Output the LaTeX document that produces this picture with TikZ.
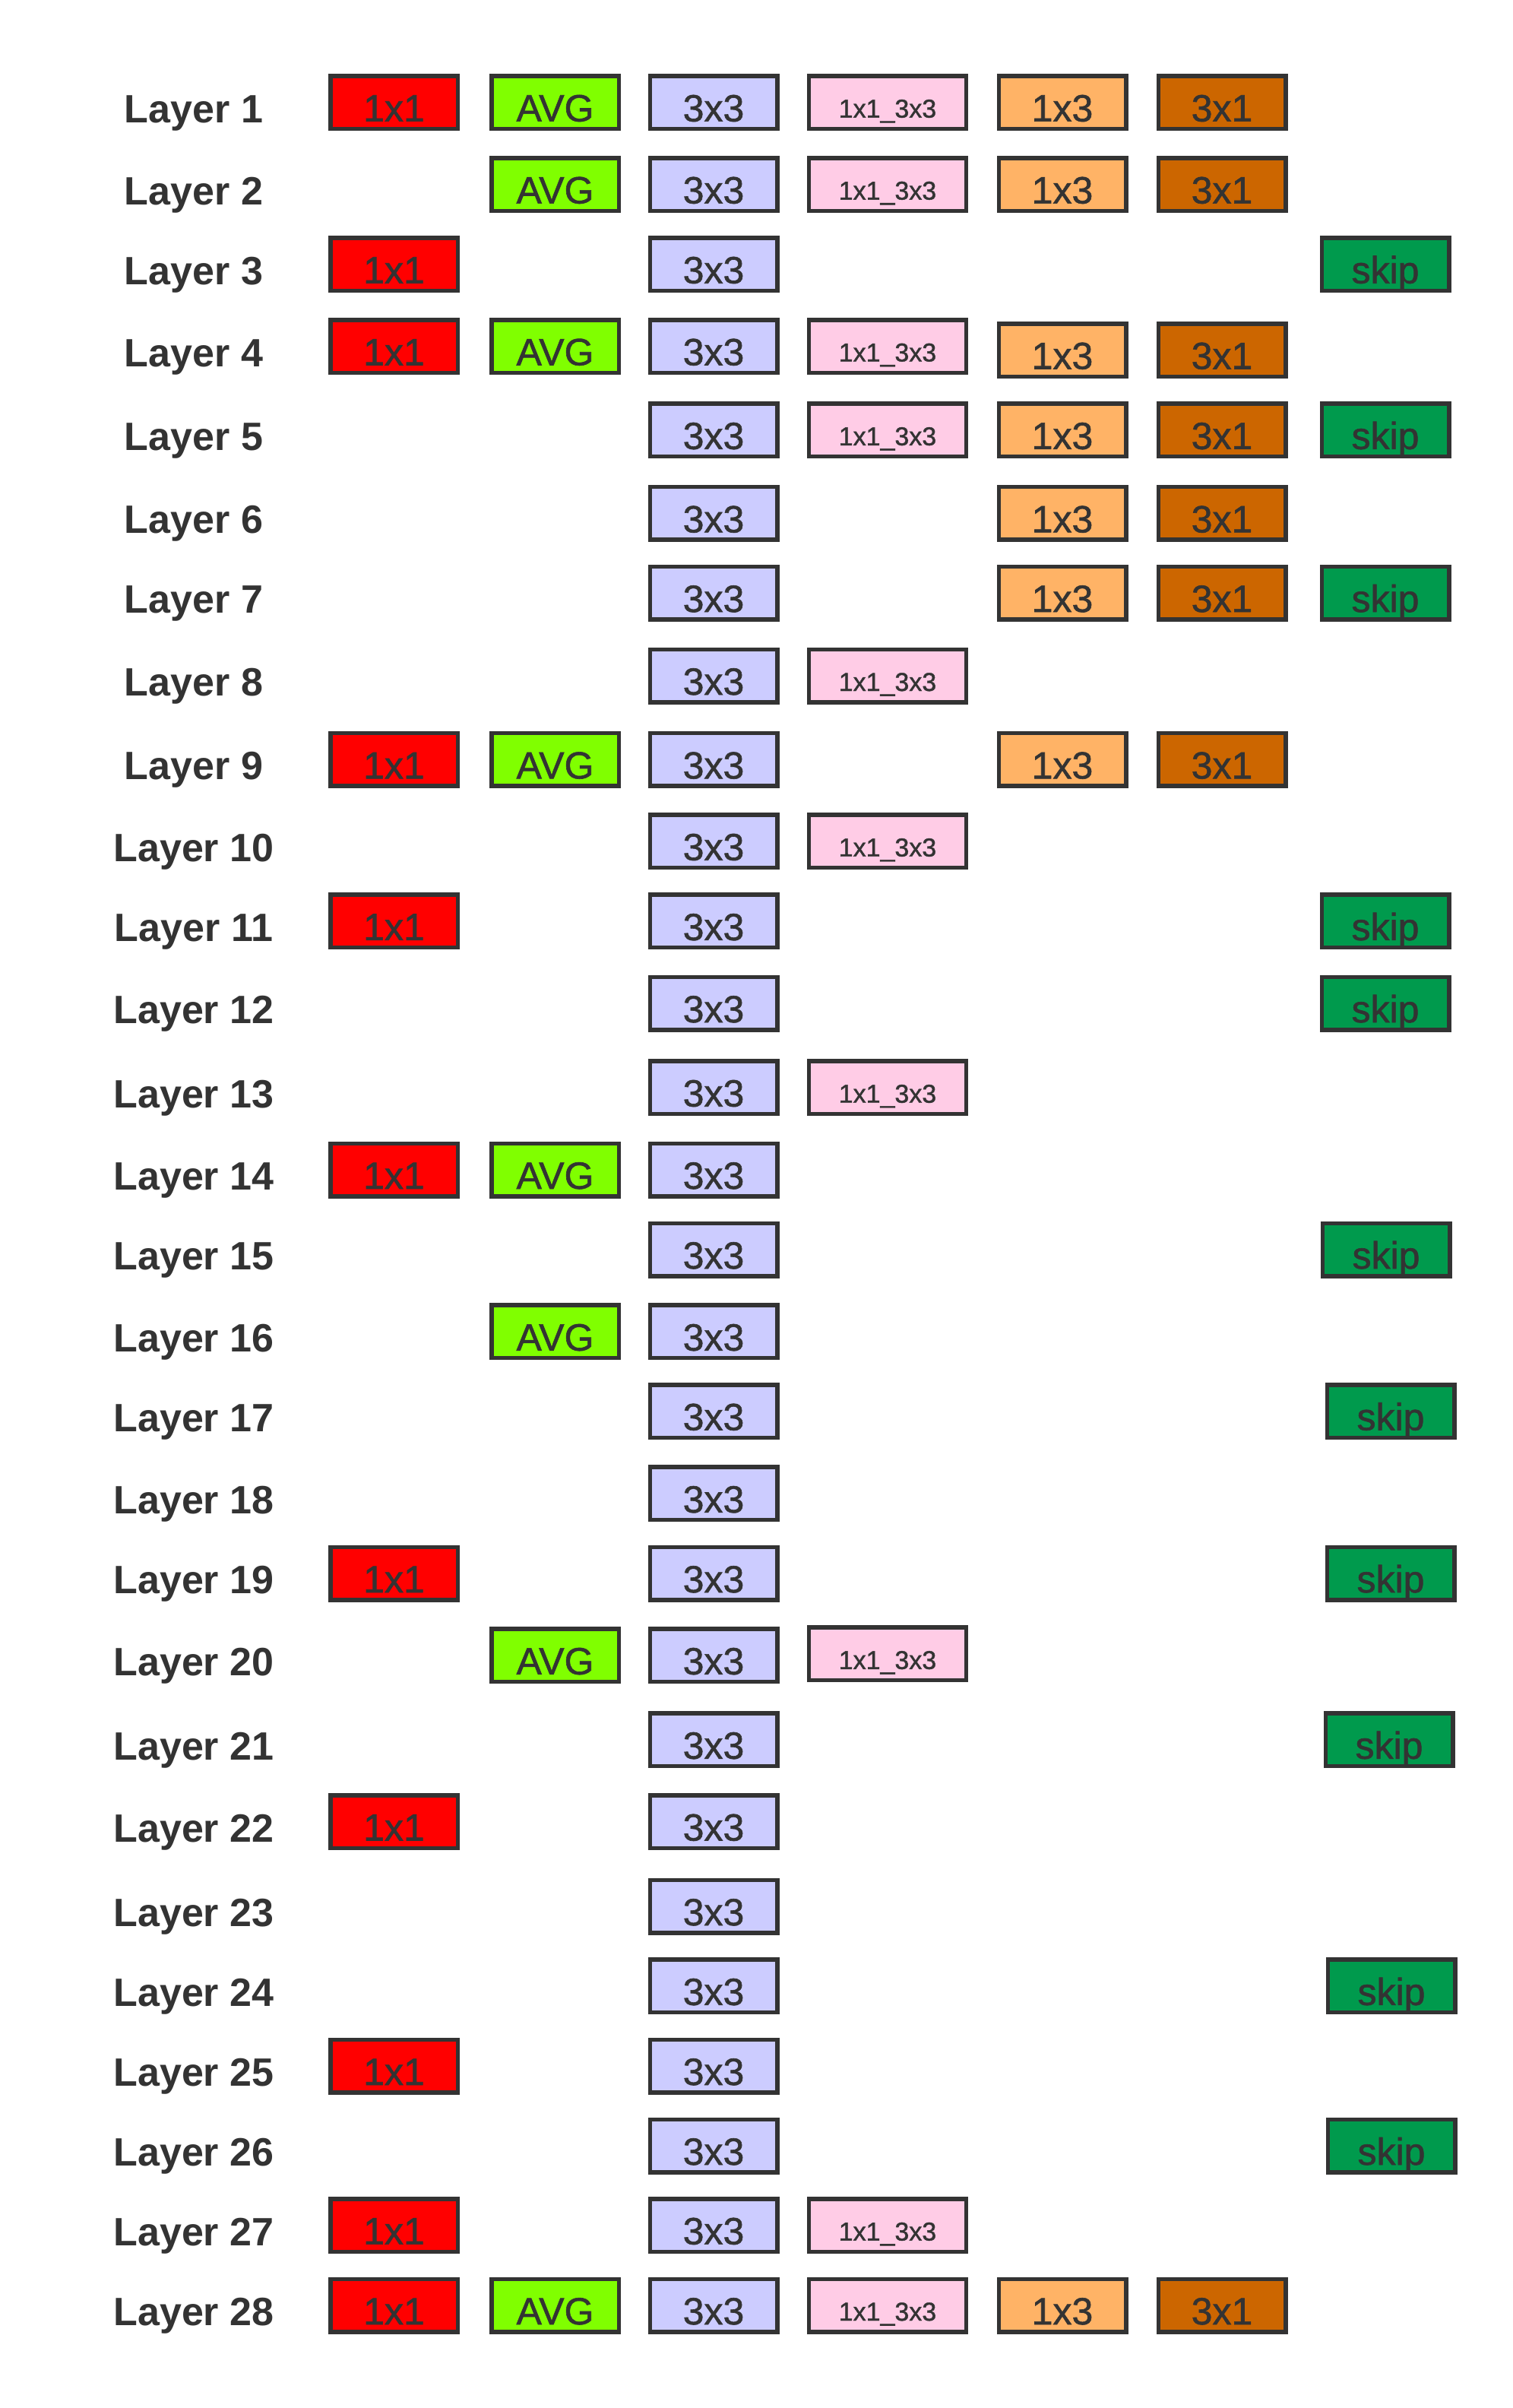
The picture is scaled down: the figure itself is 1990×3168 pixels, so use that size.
\documentclass[tikz,border=0pt]{standalone}
\usepackage{fontspec}
\setmainfont{Liberation Sans}
\newfontfamily\boxfont{Liberation Sans}[FakeBold=1.2]
\definecolor{bd}{HTML}{333333}
\definecolor{cred}{HTML}{FF0000}
\definecolor{cavg}{HTML}{80FF00}
\definecolor{cthree}{HTML}{CCCCFF}
\definecolor{cpink}{HTML}{FFCCE6}
\definecolor{corl}{HTML}{FFB366}
\definecolor{cord}{HTML}{CC6600}
\definecolor{cskip}{HTML}{009A4D}
\tikzset{
  opbox/.style={draw=bd, line width=5.5pt, minimum width=167.5pt, minimum height=69.5pt,
    inner sep=0pt, text height=50pt, text depth=0pt, text=bd,
    font=\boxfont\fontsize{50}{50}\selectfont},
  widebox/.style={opbox, minimum width=207pt, text height=40pt,
    font=\boxfont\fontsize{34}{34}\selectfont},
  oneone/.style={opbox, fill=cred},
  avgbox/.style={opbox, fill=cavg},
  threebox/.style={opbox, fill=cthree},
  mixbox/.style={widebox, fill=cpink},
  onethree/.style={opbox, fill=corl},
  threeone/.style={opbox, fill=cord},
  skipbox/.style={opbox, fill=cskip},
  lbl/.style={inner sep=0pt, text height=53pt, text depth=0pt, text=bd,
    font=\bfseries\fontsize{52}{52}\selectfont}
}
\def\xL{255}
\def\xA{518.5}
\def\xB{730.5}
\def\xC{939}
\def\xD{1168}
\def\xE{1398}
\def\xF{1608}
\def\xG{1823}
\begin{document}
\begin{tikzpicture}[x=1pt,y=-1pt]
\useasboundingbox (0,0) rectangle (1990,3168);
% row y positions
\def\yA{134.7}\def\yB{242.6}\def\yC{347.7}\def\yD{455.5}\def\yE{565.8}
\def\yF{675.4}\def\yG{780.1}\def\yH{889}\def\yI{999.3}\def\yJ{1106.7}
\def\yK{1211.9}\def\yL{1320}\def\yM{1430.7}\def\yN{1539}\def\yO{1644}
\def\yP{1751.8}\def\yQ{1856.5}\def\yR{1964.9}\def\yS{2070}\def\yT{2177.8}
\def\yU{2288.8}\def\yV{2396.5}\def\yW{2508}\def\yX{2612.8}\def\yY{2718}
\def\yZ{2823}\def\yAA{2927.6}\def\yAB{3033}
% labels
\node[lbl] (L1) at (\xL,\yA) {Layer 1};
\node[lbl] (L2) at (\xL,\yB) {Layer 2};
\node[lbl] (L3) at (\xL,\yC) {Layer 3};
\node[lbl] (L4) at (\xL,\yD) {Layer 4};
\node[lbl] (L5) at (\xL,\yE) {Layer 5};
\node[lbl] (L6) at (\xL,\yF) {Layer 6};
\node[lbl] (L7) at (\xL,\yG) {Layer 7};
\node[lbl] (L8) at (\xL,\yH) {Layer 8};
\node[lbl] (L9) at (\xL,\yI) {Layer 9};
\node[lbl] (L10) at (\xL,\yJ) {Layer 10};
\node[lbl] (L11) at (\xL,\yK) {Layer 11};
\node[lbl] (L12) at (\xL,\yL) {Layer 12};
\node[lbl] (L13) at (\xL,\yM) {Layer 13};
\node[lbl] (L14) at (\xL,\yN) {Layer 14};
\node[lbl] (L15) at (\xL,\yO) {Layer 15};
\node[lbl] (L16) at (\xL,\yP) {Layer 16};
\node[lbl] (L17) at (\xL,\yQ) {Layer 17};
\node[lbl] (L18) at (\xL,\yR) {Layer 18};
\node[lbl] (L19) at (\xL,\yS) {Layer 19};
\node[lbl] (L20) at (\xL,\yT) {Layer 20};
\node[lbl] (L21) at (\xL,\yU) {Layer 21};
\node[lbl] (L22) at (\xL,\yV) {Layer 22};
\node[lbl] (L23) at (\xL,\yW) {Layer 23};
\node[lbl] (L24) at (\xL,\yX) {Layer 24};
\node[lbl] (L25) at (\xL,\yY) {Layer 25};
\node[lbl] (L26) at (\xL,\yZ) {Layer 26};
\node[lbl] (L27) at (\xL,\yAA) {Layer 27};
\node[lbl] (L28) at (\xL,\yAB) {Layer 28};
% 3x3 column (all rows)
\node[threebox] (c1) at (\xC,\yA) {3x3};
\node[threebox] (c2) at (\xC,\yB) {3x3};
\node[threebox] (c3) at (\xC,\yC) {3x3};
\node[threebox] (c4) at (\xC,\yD) {3x3};
\node[threebox] (c5) at (\xC,\yE) {3x3};
\node[threebox] (c6) at (\xC,\yF) {3x3};
\node[threebox] (c7) at (\xC,\yG) {3x3};
\node[threebox] (c8) at (\xC,\yH) {3x3};
\node[threebox] (c9) at (\xC,\yI) {3x3};
\node[threebox] (c10) at (\xC,\yJ) {3x3};
\node[threebox] (c11) at (\xC,\yK) {3x3};
\node[threebox] (c12) at (\xC,\yL) {3x3};
\node[threebox] (c13) at (\xC,\yM) {3x3};
\node[threebox] (c14) at (\xC,\yN) {3x3};
\node[threebox] (c15) at (\xC,\yO) {3x3};
\node[threebox] (c16) at (\xC,\yP) {3x3};
\node[threebox] (c17) at (\xC,\yQ) {3x3};
\node[threebox] (c18) at (\xC,\yR) {3x3};
\node[threebox] (c19) at (\xC,\yS) {3x3};
\node[threebox] (c20) at (\xC,\yT) {3x3};
\node[threebox] (c21) at (\xC,\yU) {3x3};
\node[threebox] (c22) at (\xC,\yV) {3x3};
\node[threebox] (c23) at (\xC,\yW) {3x3};
\node[threebox] (c24) at (\xC,\yX) {3x3};
\node[threebox] (c25) at (\xC,\yY) {3x3};
\node[threebox] (c26) at (\xC,\yZ) {3x3};
\node[threebox] (c27) at (\xC,\yAA) {3x3};
\node[threebox] (c28) at (\xC,\yAB) {3x3};
% 1x1 column
\node[oneone] (a1) at (\xA,\yA) {1x1};
\node[oneone] (a3) at (\xA,\yC) {1x1};
\node[oneone] (a4) at (\xA,\yD) {1x1};
\node[oneone] (a9) at (\xA,\yI) {1x1};
\node[oneone] (a11) at (\xA,\yK) {1x1};
\node[oneone] (a14) at (\xA,\yN) {1x1};
\node[oneone] (a19) at (\xA,\yS) {1x1};
\node[oneone] (a22) at (\xA,\yV) {1x1};
\node[oneone] (a25) at (\xA,\yY) {1x1};
\node[oneone] (a27) at (\xA,\yAA) {1x1};
\node[oneone] (a28) at (\xA,\yAB) {1x1};
% AVG column
\node[avgbox] (b1) at (\xB,\yA) {AVG};
\node[avgbox] (b2) at (\xB,\yB) {AVG};
\node[avgbox] (b4) at (\xB,\yD) {AVG};
\node[avgbox] (b9) at (\xB,\yI) {AVG};
\node[avgbox] (b14) at (\xB,\yN) {AVG};
\node[avgbox] (b16) at (\xB,\yP) {AVG};
\node[avgbox] (b20) at (\xB,\yT) {AVG};
\node[avgbox] (b28) at (\xB,\yAB) {AVG};
% 1x1_3x3 column
\node[mixbox] (d1) at (\xD,\yA) {1x1\_3x3};
\node[mixbox] (d2) at (\xD,\yB) {1x1\_3x3};
\node[mixbox] (d4) at (\xD,\yD) {1x1\_3x3};
\node[mixbox] (d5) at (\xD,\yE) {1x1\_3x3};
\node[mixbox] (d8) at (\xD,\yH) {1x1\_3x3};
\node[mixbox] (d10) at (\xD,\yJ) {1x1\_3x3};
\node[mixbox] (d13) at (\xD,\yM) {1x1\_3x3};
\node[mixbox] (d20) at (\xD,\yT-2) {1x1\_3x3};
\node[mixbox] (d27) at (\xD,\yAA) {1x1\_3x3};
\node[mixbox] (d28) at (\xD,\yAB) {1x1\_3x3};
% 1x3 column
\node[onethree] (e1) at (\xE,\yA) {1x3};
\node[onethree] (e2) at (\xE,\yB) {1x3};
\node[onethree] (e4) at (\xE,\yD+5) {1x3};
\node[onethree] (e5) at (\xE,\yE) {1x3};
\node[onethree] (e6) at (\xE,\yF) {1x3};
\node[onethree] (e7) at (\xE,\yG) {1x3};
\node[onethree] (e9) at (\xE,\yI) {1x3};
\node[onethree] (e28) at (\xE,\yAB) {1x3};
% 3x1 column
\node[threeone] (f1) at (\xF,\yA) {3x1};
\node[threeone] (f2) at (\xF,\yB) {3x1};
\node[threeone] (f4) at (\xF,\yD+5) {3x1};
\node[threeone] (f5) at (\xF,\yE) {3x1};
\node[threeone] (f6) at (\xF,\yF) {3x1};
\node[threeone] (f7) at (\xF,\yG) {3x1};
\node[threeone] (f9) at (\xF,\yI) {3x1};
\node[threeone] (f28) at (\xF,\yAB) {3x1};
% skip column
\node[skipbox] (g3) at (\xG,\yC) {skip};
\node[skipbox] (g5) at (\xG,\yE) {skip};
\node[skipbox] (g7) at (\xG,\yG) {skip};
\node[skipbox] (g11) at (\xG,\yK) {skip};
\node[skipbox] (g12) at (\xG,\yL) {skip};
\node[skipbox] (g15) at (\xG+1,\yO) {skip};
\node[skipbox] (g17) at (\xG+7,\yQ) {skip};
\node[skipbox] (g19) at (\xG+7,\yS) {skip};
\node[skipbox] (g21) at (\xG+5,\yU) {skip};
\node[skipbox] (g24) at (\xG+8,\yX) {skip};
\node[skipbox] (g26) at (\xG+8,\yZ) {skip};
\end{tikzpicture}
\end{document}
